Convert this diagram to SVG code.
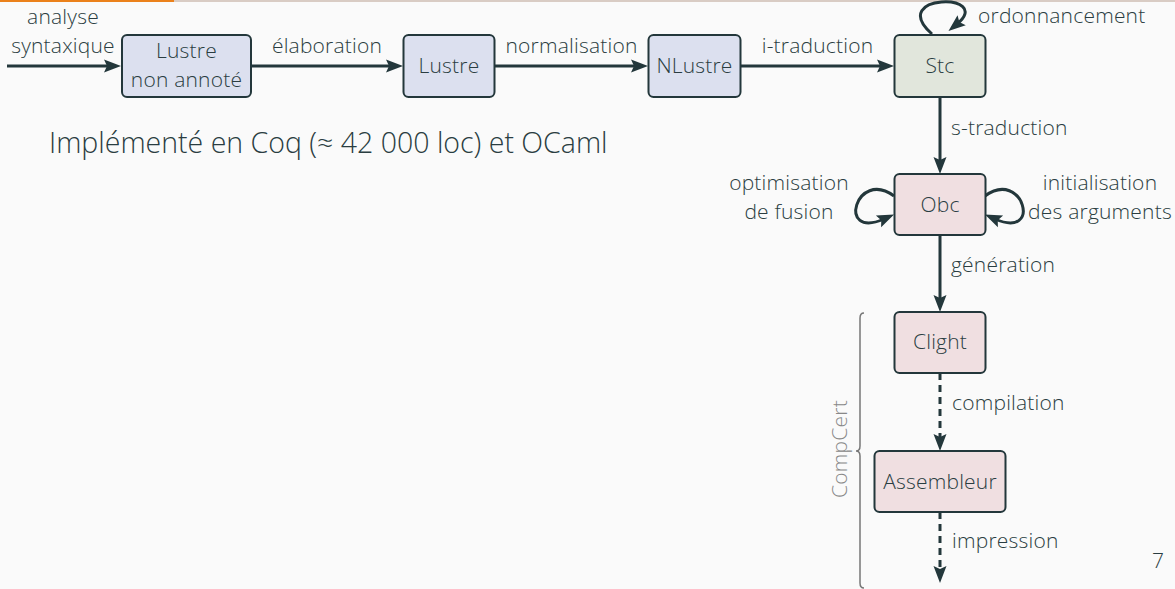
<svg xmlns="http://www.w3.org/2000/svg" width="1175" height="589" viewBox="0 0 1175 589">
  <style>
    .bg { fill: #fafafa; }
    .node rect { stroke: #23373b; stroke-width: 2; }
    .lustre rect { fill: #dce0ef; }
    .stc rect { fill: #e1e6dc; }
    .pink rect { fill: #f0dfe1; }
    text { font-family: "Open Sans", "Noto Sans", sans-serif; fill: #2a3d41; font-size: 21px; font-weight: 350; letter-spacing: 0.2px; }
    .mid { text-anchor: middle; }
    .edge { fill: none; stroke: #23373b; stroke-width: 3; marker-end: url(#head); }
    .dash { stroke-dasharray: 7 5; }
    .note { font-weight: 300; font-size: 28.5px; letter-spacing: 0; }
    .gray { fill: #888; }
  </style>
  <defs>
    <marker id="head" markerUnits="userSpaceOnUse" markerWidth="20" markerHeight="16" viewBox="-7 -8 19 16" refX="0" refY="0" orient="auto" overflow="visible">
      <path d="M11,0 L-6,-6.5 L-3,0 L-6,6.5 Z" fill="#23373b"/>
    </marker>
  </defs>

  <rect class="bg" x="0" y="0" width="1175" height="589"/>
  <!-- progress bar -->
  <rect x="0" y="0" width="1175" height="2" fill="#d9ccc4"/>
  <rect x="0" y="0" width="174" height="2" fill="#eb811b"/>

  <!-- connectors -->
  <g id="connectors">
    <path class="edge" d="M7,66 H110"/>
    <path class="edge" d="M251,66 H392"/>
    <path class="edge" d="M495,66 H637"/>
    <path class="edge" d="M741,66 H883"/>
    <path class="edge" d="M940,97 V163"/>
    <path class="edge" d="M940,235 V301"/>
    <path class="edge dash" d="M940,373 V440"/>
    <path class="edge dash" d="M940,512 V572"/>
    <!-- self loops -->
    <path class="edge" d="M932,34 C886,-7 995,-7 957,24"/>
    <path class="edge" d="M894,196 C856,168 836,240 884,219"/>
    <path class="edge" d="M985,196 C1023,168 1043,240 995,219"/>
  </g>

  <!-- edge labels -->
  <g id="labels">
    <text class="mid" x="63" y="24">analyse</text>
    <text class="mid" x="63" y="53">syntaxique</text>
    <text class="mid" x="327" y="53">élaboration</text>
    <text class="mid" x="571.5" y="53">normalisation</text>
    <text class="mid" x="817.5" y="53">i-traduction</text>
    <text x="978" y="23">ordonnancement</text>
    <text x="951" y="135">s-traduction</text>
    <text class="mid" x="789" y="190">optimisation</text>
    <text class="mid" x="789" y="219">de fusion</text>
    <text class="mid" x="1100" y="190">initialisation</text>
    <text class="mid" x="1100" y="219">des arguments</text>
    <text x="951" y="272">génération</text>
    <text x="952" y="410">compilation</text>
    <text x="952" y="548">impression</text>
  </g>

  <!-- nodes -->
  <g id="n-lustre-na" class="node lustre">
    <rect x="122" y="35" width="129" height="62" rx="5"/>
    <text class="mid" x="186.5" y="58">Lustre</text>
    <text class="mid" x="186.5" y="87">non annoté</text>
  </g>
  <g id="n-lustre" class="node lustre">
    <rect x="403.5" y="35" width="91" height="62" rx="5"/>
    <text class="mid" x="449" y="73">Lustre</text>
  </g>
  <g id="n-nlustre" class="node lustre">
    <rect x="648.5" y="35" width="92" height="62" rx="5"/>
    <text class="mid" x="694.5" y="73">NLustre</text>
  </g>
  <g id="n-stc" class="node stc">
    <rect x="894.5" y="35" width="91" height="62" rx="5"/>
    <text class="mid" x="940" y="73">Stc</text>
  </g>
  <g id="n-obc" class="node pink">
    <rect x="894.5" y="174" width="91" height="61" rx="5"/>
    <text class="mid" x="940" y="212">Obc</text>
  </g>
  <g id="n-clight" class="node pink">
    <rect x="894.5" y="312" width="91" height="61" rx="5"/>
    <text class="mid" x="940" y="349">Clight</text>
  </g>
  <g id="n-asm" class="node pink">
    <rect x="874.5" y="451" width="131" height="61" rx="5"/>
    <text class="mid" x="940" y="489">Assembleur</text>
  </g>

  <!-- CompCert brace -->
  <g id="compcert">
    <path d="M864,313 Q860,313 860,318 V446 Q860,451 856,451 Q860,451 860,456 V583 Q860,588 864,588" fill="none" stroke="#777" stroke-width="1.5"/>
    <text class="mid gray" transform="translate(847,449) rotate(-90)" font-size="18">CompCert</text>
  </g>

  <text class="note" x="49" y="153">Implémenté en Coq (≈ 42 000 loc) et OCaml</text>
  <text x="1152" y="568" font-size="18">7</text>
</svg>
